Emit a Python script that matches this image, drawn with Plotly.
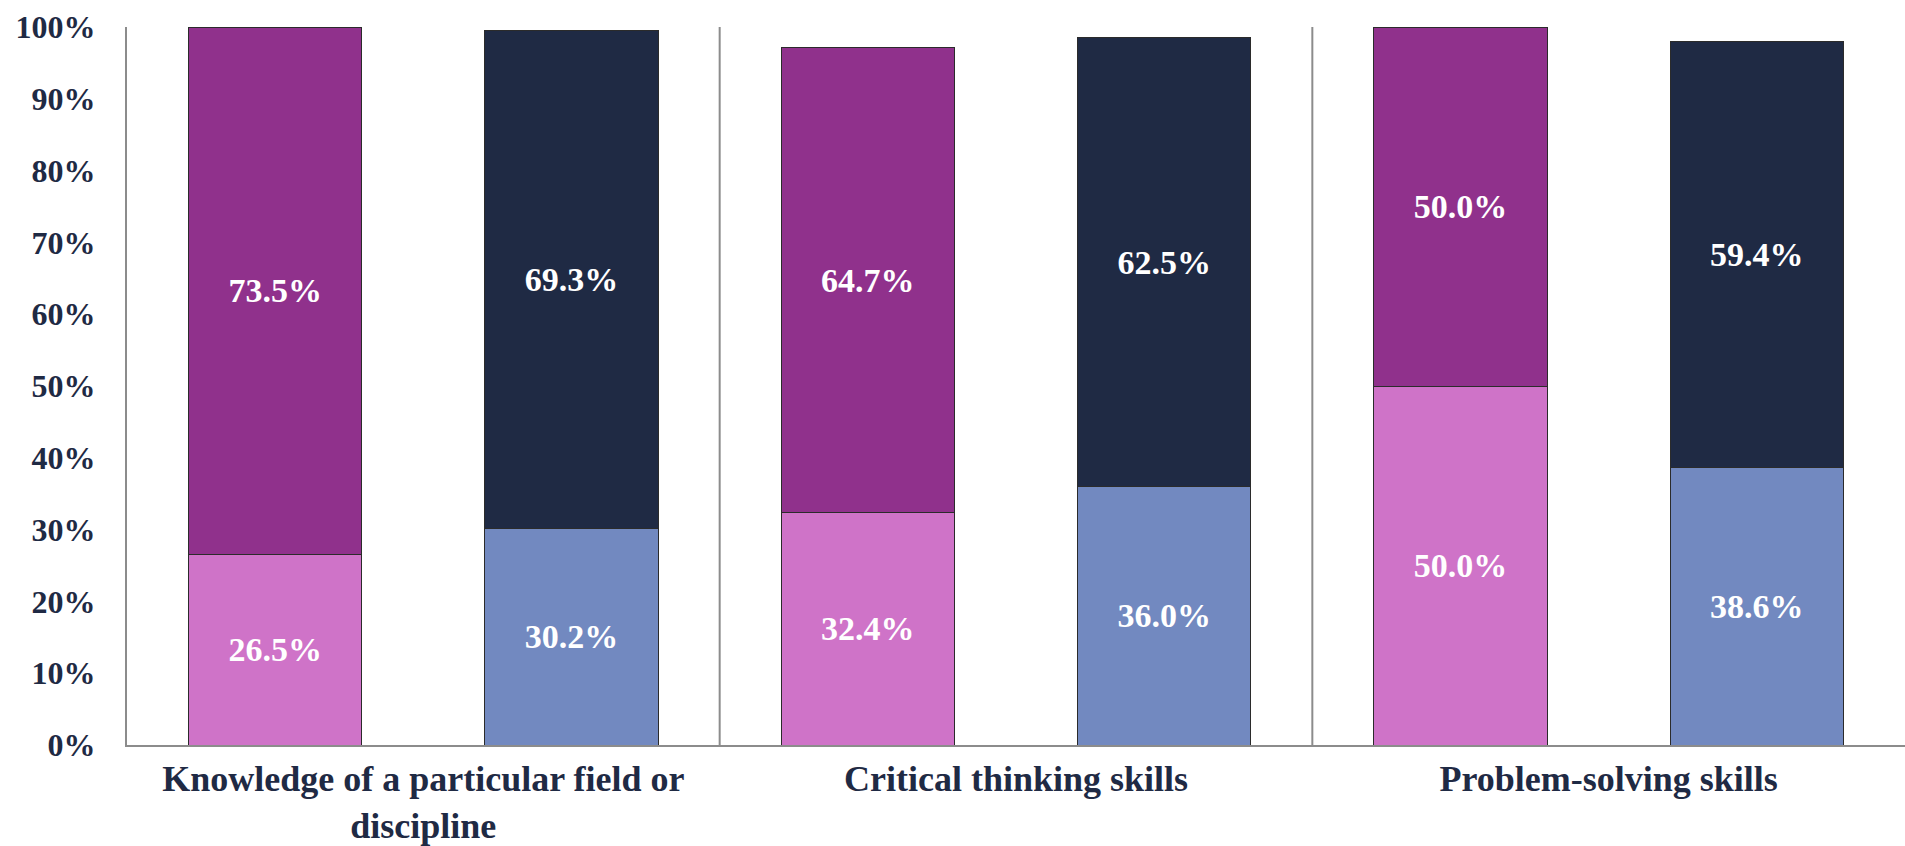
import plotly.graph_objects as go

categories = ["Knowledge of a particular field or<br>discipline", "Critical thinking skills", "Problem-solving skills"]
group_a_low = [26.5, 32.4, 50.0]
group_a_high = [73.5, 64.7, 50.0]
group_b_low = [30.2, 36.0, 38.6]
group_b_high = [69.3, 62.5, 59.4]
y_ticks = [0, 10, 20, 30, 40, 50, 60, 70, 80, 90, 100]

colors = {"a_low": "#CF73C8", "a_high": "#90318C", "b_low": "#7289C0", "b_high": "#1F2A44"}
FONT = "Liberation Serif"
NAVY = "#1F2A44"

idx = list(range(len(categories)))
xa = [i - 0.25 for i in idx]
xb = [i + 0.25 for i in idx]
W = 0.293

fig = go.Figure()
def add(x, vals, color):
    fig.add_trace(go.Bar(
        x=x, y=vals, width=W,
        marker=dict(color=color, line=dict(color="#2b2b2b", width=1)),
        text=[f"{v:.1f}%" for v in vals], textposition="inside",
        insidetextanchor="middle", constraintext="none",
        textfont=dict(family=FONT, size=34, color="white"),
        hoverinfo="skip", showlegend=False,
    ))

add(xa, group_a_low, colors["a_low"])
add(xa, group_a_high, colors["a_high"])
add(xb, group_b_low, colors["b_low"])
add(xb, group_b_high, colors["b_high"])

for d in [0.5, 1.5]:
    fig.add_shape(type="line", x0=d, x1=d, y0=0, y1=100, xref="x", yref="y",
                  line=dict(color="#8c8c8c", width=2), layer="below")

fig.update_layout(
    barmode="stack",
    width=1905, height=846,
    margin=dict(l=127, r=0, t=27, b=101),
    plot_bgcolor="white", paper_bgcolor="white",
    font=dict(family=FONT, color=NAVY, size=34),
)
fig.update_xaxes(
    range=[-0.5, 2.5], tickvals=idx, ticktext=[f"<b>{c}</b>" for c in categories],
    showline=True, linecolor="#8c8c8c", linewidth=2, showgrid=False, zeroline=False,
    ticks="", tickfont=dict(family=FONT, size=36, color=NAVY), ticklabelstandoff=1,
    automargin=False,
)
fig.update_yaxes(
    range=[0, 100], tickvals=y_ticks, ticktext=[f"<b>{t}%</b>" for t in y_ticks],
    showline=True, linecolor="#8c8c8c", linewidth=2, showgrid=False, zeroline=False,
    ticks="", tickfont=dict(family=FONT, size=32, color=NAVY), ticklabelstandoff=23,
    automargin=False,
)
fig.update_traces(texttemplate="<b>%{text}</b>")

fig.write_html("out.html", config={"displayModeBar": False},
               post_script="document.body.style.margin='0';")
